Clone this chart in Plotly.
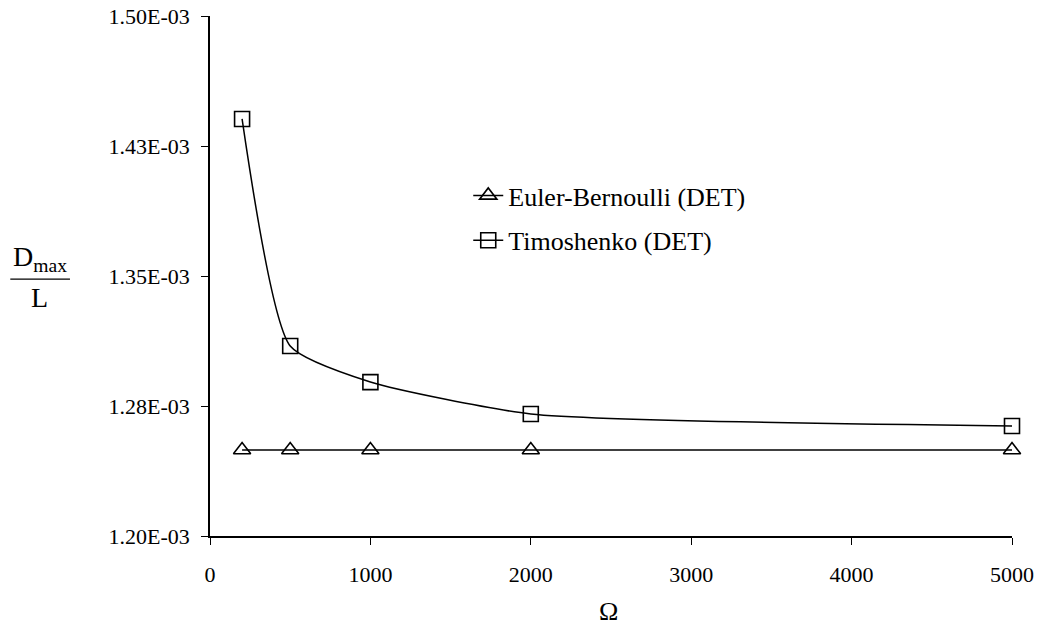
import plotly.graph_objects as go

omega = [200, 500, 1000, 2000, 5000]
euler = [1.2496e-3, 1.2496e-3, 1.2496e-3, 1.2496e-3, 1.2496e-3]
timo = [1.4406e-3, 1.3096e-3, 1.2888e-3, 1.2704e-3, 1.2635e-3]
yticks = [1.20e-3, 1.275e-3, 1.35e-3, 1.425e-3, 1.50e-3]
ytick_labels = ["1.20E-03", "1.28E-03", "1.35E-03", "1.43E-03", "1.50E-03"]
xticks = [0, 1000, 2000, 3000, 4000, 5000]

FONT = "'Liberation Serif', 'Times New Roman', Times, serif"

fig = go.Figure()
fig.add_trace(go.Scatter(
    x=omega, y=euler, name="Euler-Bernoulli (DET)", mode="lines+markers",
    legendgroup="a",
    line=dict(color="black", width=1.5),
    marker=dict(symbol="triangle-up-open", size=15, color="black", line=dict(width=1.6)),
    cliponaxis=False,
))
fig.add_trace(go.Scatter(
    x=omega, y=timo, name="Timoshenko (DET)", mode="lines+markers",
    legendgroup="b",
    line=dict(color="black", width=1.5, shape="spline", smoothing=0.55),
    marker=dict(symbol="square-open", size=15, color="black", line=dict(width=1.6)),
    cliponaxis=False,
))

fig.update_layout(
    width=1040, height=635,
    paper_bgcolor="white", plot_bgcolor="white",
    margin=dict(l=210, r=28, t=16, b=99, autoexpand=False),
    font=dict(family=FONT, size=22, color="black"),
    showlegend=True,
    legend=dict(x=0.322, y=0.70, xanchor="left", yanchor="top",
                bgcolor="rgba(0,0,0,0)", font=dict(family=FONT, size=26),
                itemwidth=30, tracegroupgap=8, traceorder="grouped"),
    xaxis=dict(range=[0, 5000], tickvals=xticks, showgrid=False, zeroline=False,
               automargin=False, ticklabeloverflow="allow",
               showline=True, linecolor="black", linewidth=1.5,
               ticks="outside", ticklen=7, tickcolor="black", tickwidth=1,
               tickfont=dict(family=FONT, size=22), ticklabelstandoff=11),
    yaxis=dict(range=[1.20e-3, 1.50e-3], tickvals=yticks, ticktext=ytick_labels,
               showgrid=False, zeroline=False, automargin=False,
               ticklabeloverflow="allow",
               showline=True, linecolor="black", linewidth=1.5,
               ticks="outside", ticklen=7, tickcolor="black", tickwidth=1,
               tickfont=dict(family=FONT, size=22), ticklabelstandoff=7),
    annotations=[
        dict(text="Ω", xref="paper", yref="paper", x=0.497, y=-0.146,
             xanchor="center", yanchor="middle", showarrow=False,
             font=dict(family=FONT, size=26)),
        dict(text="D<sub>max</sub>", xref="paper", yref="paper", x=-0.212, y=0.497,
             xanchor="center", yanchor="bottom", showarrow=False,
             font=dict(family=FONT, size=28)),
        dict(text="L", xref="paper", yref="paper", x=-0.212, y=0.492,
             xanchor="center", yanchor="top", showarrow=False,
             font=dict(family=FONT, size=28)),
    ],
    shapes=[
        dict(type="line", xref="paper", yref="paper", x0=-0.249, x1=-0.1746,
             y0=0.494, y1=0.494, line=dict(color="black", width=1.2)),
    ],
)

fig.write_html(
    "out.html",
    config={"displayModeBar": False},
    post_script="document.body.style.margin='0';document.body.style.padding='0';"
                "document.body.style.overflow='hidden';",
)
